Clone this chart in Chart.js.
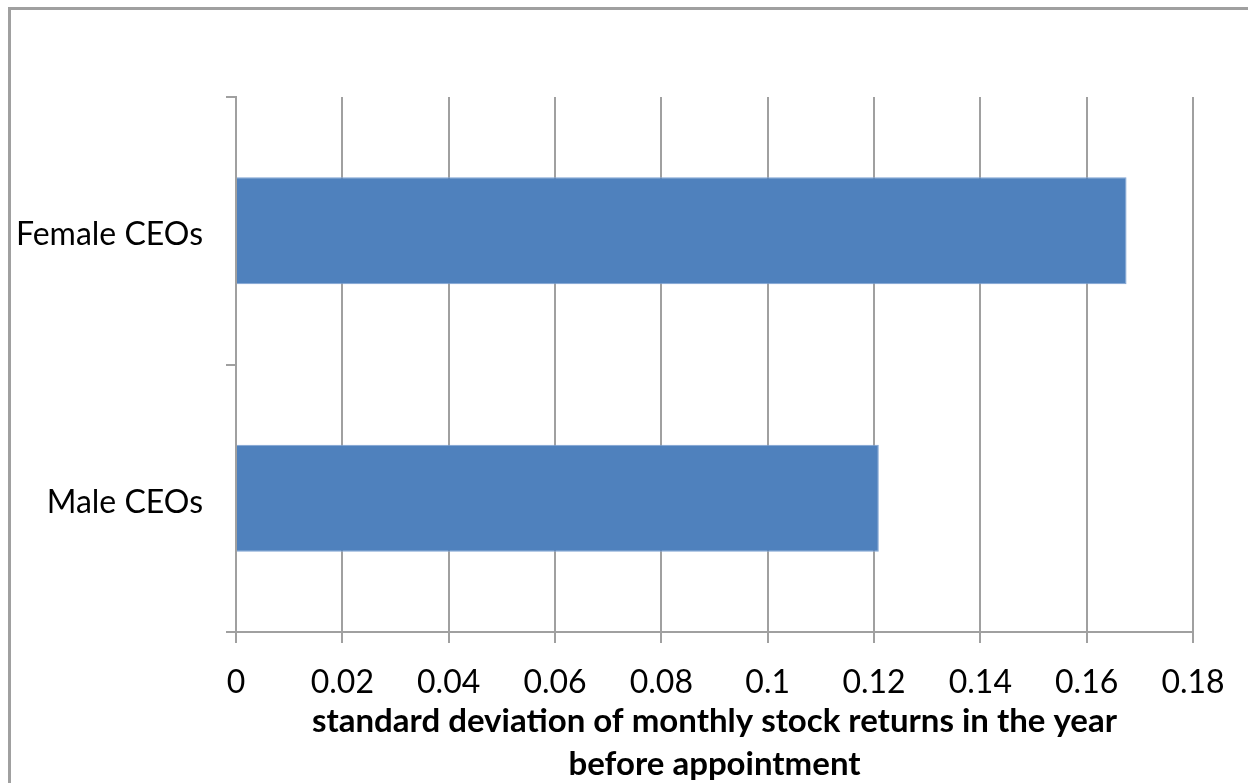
<!DOCTYPE html>
<html>
<head>
<meta charset="utf-8">
<title>CEO stock return volatility</title>
<script src="https://cdn.jsdelivr.net/npm/chart.js@4"></script>
<style>
  html, body { margin: 0; padding: 0; background: #fff; overflow: hidden; }
  #frame {
    position: absolute; left: 8px; top: 7px;
    width: 1400px; height: 900px;
    border: 3px solid #a0a0a0;
  }
  #wrap { position: absolute; left: 0; top: 0; width: 1248px; height: 800px; }
</style>
</head>
<body>
<div id="frame"></div>
<div id="wrap"><canvas id="chart" width="1248" height="800"></canvas></div>
<script>
const categories = ['Female CEOs', 'Male CEOs'];
const stdDevValues = [0.1675, 0.1209];
const xTicks = [0, 0.02, 0.04, 0.06, 0.08, 0.1, 0.12, 0.14, 0.16, 0.18];
const xTitle = ['standard deviation of monthly stock returns in the year', 'before appointment'];

const gray = '#a0a0a0';
const fontFamily = 'Lato, "Open Sans", sans-serif';

const ctx = document.getElementById('chart').getContext('2d');
new Chart(ctx, {
  type: 'bar',
  data: {
    labels: categories,
    datasets: [{
      data: stdDevValues,
      backgroundColor: '#4f81bd',
      borderColor: '#7ea3d3',
      borderWidth: 1,
      barPercentage: 0.4,
      categoryPercentage: 1
    }]
  },
  options: {
    indexAxis: 'y',
    responsive: false,
    animation: false,
    layout: { padding: { left: 0, top: 97, right: 55, bottom: 0 } },
    plugins: { legend: { display: false }, tooltip: { enabled: false } },
    scales: {
      x: {
        min: 0,
        max: 0.18,
        afterFit: (scale) => { scale.height = 168; },
        afterBuildTicks: (scale) => { scale.ticks = xTicks.map(v => ({ value: v })); },
        grid: { color: gray, lineWidth: 2, tickLength: 11 },
        border: { color: gray, width: 2 },
        ticks: {
          color: '#000',
          padding: 20,
          font: { family: fontFamily, size: 32 },
          callback: (v) => String(+v.toFixed(2))
        },
        title: {
          display: true,
          text: xTitle,
          color: '#000',
          padding: { top: 0, bottom: 14 },
          font: { family: fontFamily, size: 33, weight: 'bold', lineHeight: '43px' }
        }
      },
      y: {
        afterFit: (scale) => { scale.width = 236; },
        grid: { drawOnChartArea: false, color: gray, lineWidth: 2, tickLength: 10 },
        border: { color: gray, width: 2 },
        ticks: {
          color: '#000',
          padding: 23,
          labelOffset: 4,
          font: { family: fontFamily, size: 32 }
        }
      }
    }
  }
});
</script>
</body>
</html>
